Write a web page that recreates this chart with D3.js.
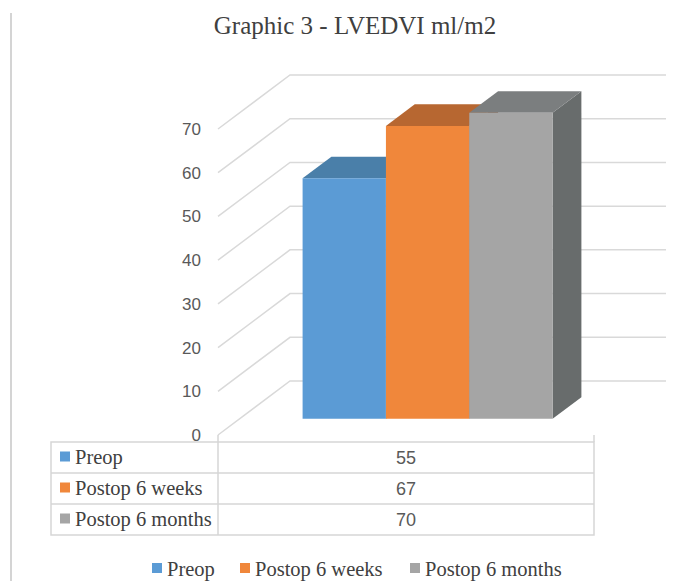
<!DOCTYPE html>
<html>
<head>
<meta charset="utf-8">
<script src="https://cdn.jsdelivr.net/npm/d3@7/dist/d3.min.js"></script>
<style>
  html, body { margin: 0; padding: 0; background: #ffffff; }
  svg { display: block; }
  .serif { font-family: "Liberation Serif", "Noto Serif", "DejaVu Serif", "Times New Roman", Times, serif; }
  .sans { font-family: "Liberation Sans", Arial, "DejaVu Sans", sans-serif; }
</style>
</head>
<body>
<svg id="chart" width="686" height="581"></svg>
<script>
// Chart data
const title = "Graphic 3 - LVEDVI ml/m2";
const categories = ["Preop", "Postop 6 weeks", "Postop 6 months"];
const values = [55, 67, 70];
const yTicks = [0, 10, 20, 30, 40, 50, 60, 70];
const frontColors = ["#5b9bd5", "#f0873b", "#a5a5a5"];
const topColors = ["#4a7fa9", "#b76731", "#7b7e7f"];
const sideColors = ["#3f6d92", "#9c5529", "#686c6c"];

const svg = d3.select("#chart");

// Plot geometry: front plane plus a receding depth vector
const DX = 72, DY = 54;            // full depth of the walls
const barT0 = 0.3, barT1 = 0.7;     // bar depth within the box

const y = d3.scaleLinear().domain([0, 70]).range([435, 129]);
const plotLeft = 218, plotRight = 594;
const x = d3.scaleBand().domain(categories)
  .range([plotLeft, plotRight])
  .paddingInner(0).paddingOuter(0.756);

const proj = (px, v, t) => [px + t * DX, y(v) - t * DY];

// Left frame line
svg.append("line")
  .attr("x1", 11).attr("x2", 11).attr("y1", 13).attr("y2", 581)
  .attr("stroke", "#d4d4d4").attr("stroke-width", 2);

// Title
svg.append("text")
  .attr("class", "serif")
  .attr("x", 355).attr("y", 34)
  .attr("text-anchor", "middle")
  .attr("font-size", 25)
  .attr("fill", "#404040")
  .text(title);

// Gridlines: side wall diagonals and back wall horizontals
const grid = svg.append("g").attr("stroke", "#d9d9d9").attr("stroke-width", 1.5).attr("fill", "none");
yTicks.forEach(v => {
  const a = proj(plotLeft, v, 0);
  const b = proj(plotLeft, v, 1);
  const c = proj(plotRight, v, 1);
  grid.append("path").attr("d", d3.line()([a, b, c]));
});

// Y axis labels on the front plane
const yAxis = d3.axisLeft(y).tickValues(yTicks).tickSize(0).tickPadding(17);
const ax = svg.append("g").attr("transform", `translate(${plotLeft},0)`).call(yAxis);
ax.select(".domain").remove();
ax.attr("font-family", null);
ax.selectAll("text")
  .attr("class", "sans")
  .attr("font-size", 17)
  .attr("fill", "#595959");

// 3D bars
const bars = svg.append("g");
categories.forEach((cat, i) => {
  const v = values[i];
  const x0 = x(cat), x1 = x(cat) + x.bandwidth();
  const f0 = proj(x0, 0, barT0), f1 = proj(x1, 0, barT0);
  const ft0 = proj(x0, v, barT0), ft1 = proj(x1, v, barT0);
  const bt0 = proj(x0, v, barT1), bt1 = proj(x1, v, barT1);
  const b1 = proj(x1, 0, barT1);
  const g = bars.append("g");
  // side face
  g.append("path").attr("d", d3.line()([f1, ft1, bt1, b1]) + "Z").attr("fill", sideColors[i]);
  // top face
  g.append("path").attr("d", d3.line()([ft0, ft1, bt1, bt0]) + "Z").attr("fill", topColors[i]);
  // front face
  g.append("path").attr("d", d3.line()([f0, f1, ft1, ft0]) + "Z").attr("fill", frontColors[i]);
});

// Data table
const tableTop = 442, tableBottom = 535, tableLeft = 51, divX = 218, tableRight = 594;
const rows = d3.scaleBand().domain(categories).range([tableTop, tableBottom]);
const tbl = svg.append("g").attr("stroke", "#d6d6d6").attr("stroke-width", 1.5).attr("fill", "none");
tbl.append("rect").attr("x", tableLeft).attr("y", tableTop)
  .attr("width", tableRight - tableLeft).attr("height", tableBottom - tableTop);
categories.slice(1).forEach(c => {
  tbl.append("line").attr("x1", tableLeft).attr("x2", tableRight)
    .attr("y1", rows(c)).attr("y2", rows(c));
});
tbl.append("line").attr("x1", divX).attr("x2", divX).attr("y1", y(0)).attr("y2", tableBottom);
tbl.append("line").attr("x1", tableRight).attr("x2", tableRight).attr("y1", y(0)).attr("y2", tableTop);

const rowG = svg.append("g").selectAll("g").data(categories).join("g")
  .attr("transform", c => `translate(0,${rows(c) + rows.bandwidth() / 2})`);
rowG.append("rect")
  .attr("x", 60).attr("y", -6).attr("width", 10).attr("height", 10)
  .attr("fill", (c, i) => frontColors[i]);
rowG.append("text")
  .attr("class", "serif")
  .attr("x", 75).attr("y", 6)
  .attr("font-size", 20.5)
  .attr("fill", "#404040")
  .text(c => c);
rowG.append("text")
  .attr("class", "sans")
  .attr("x", (divX + tableRight) / 2).attr("y", 6)
  .attr("text-anchor", "middle")
  .attr("font-size", 18)
  .attr("fill", "#595959")
  .text((c, i) => values[i]);

// Legend
const legendX = [152, 240, 410];
const lg = svg.append("g").selectAll("g").data(categories).join("g")
  .attr("transform", (c, i) => `translate(${legendX[i]},568)`);
lg.append("rect").attr("x", 0).attr("y", -5).attr("width", 10).attr("height", 10)
  .attr("fill", (c, i) => frontColors[i]);
lg.append("text").attr("x", 15).attr("y", 8)
  .attr("class", "serif")
  .attr("font-size", 20.5)
  .attr("fill", "#404040")
  .text(c => c);
</script>
</body>
</html>
